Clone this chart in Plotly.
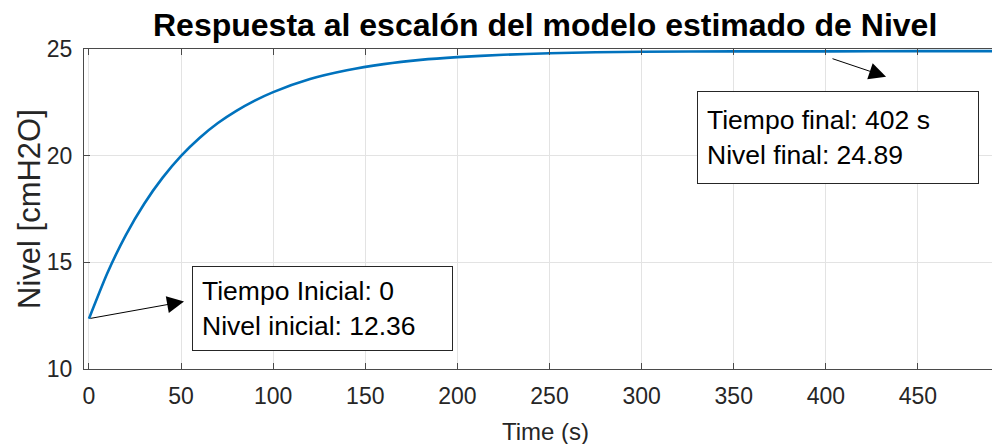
import plotly.graph_objects as go

# Data
time_s = [0, 10, 20, 30, 40, 50, 60, 70, 80, 90, 100, 120, 140, 160, 180, 200,
          225, 250, 275, 300, 350, 402, 450, 500]
nivel = [12.36, 14.50, 16.28, 17.75, 18.97, 19.99, 20.83, 21.53, 22.10, 22.58,
         22.98, 23.59, 24.00, 24.29, 24.49, 24.62, 24.73, 24.80, 24.85, 24.87,
         24.89, 24.89, 24.90, 24.90]

x_ticks = [0, 50, 100, 150, 200, 250, 300, 350, 400, 450]
y_ticks = [10, 15, 20, 25]

title_text = "Respuesta al escalón del modelo estimado de Nivel"
xlabel = "Time (s)"
ylabel = "Nivel [cmH2O]"
box1_text = "Tiempo Inicial: 0<br>Nivel inicial: 12.36"
box2_text = "Tiempo final: 402 s<br>Nivel final: 24.89"

FONT = "Liberation Sans, Arial, Helvetica, sans-serif"
AX = "#262626"
GRID = "#e3e3e3"

fig = go.Figure()
fig.add_trace(go.Scatter(x=time_s, y=nivel, mode="lines",
                         line=dict(color="#0072BD", width=2.6, shape="spline", smoothing=0.6),
                         hoverinfo="skip", showlegend=False))

fig.update_layout(
    width=992, height=444,
    margin=dict(l=84, r=0, t=49, b=75),
    paper_bgcolor="white", plot_bgcolor="white",
    font=dict(family=FONT, color=AX),
    showlegend=False,
)
fig.update_xaxes(range=[-2.7, 490.2], tickvals=x_ticks, ticktext=[str(v) for v in x_ticks],
                 showgrid=True, gridcolor=GRID, gridwidth=1,
                 showline=True, linecolor="#4a4a4a", linewidth=1.3, mirror="allticks",
                 ticks="inside", ticklen=6, tickcolor="#4a4a4a",
                 tickfont=dict(size=23, color=AX), zeroline=False, ticklabelstandoff=6)
fig.update_yaxes(range=[10, 25], tickvals=y_ticks, ticktext=[str(v) for v in y_ticks],
                 showgrid=True, gridcolor=GRID, gridwidth=1,
                 showline=True, linecolor="#4a4a4a", linewidth=1.3, mirror=False,
                 ticks="inside", ticklen=6, tickcolor="#4a4a4a",
                 tickfont=dict(size=23, color=AX), zeroline=False, ticklabelstandoff=6)

annotations = [
    dict(text="<b>" + title_text + "</b>", xref="paper", yref="paper",
         x=(544.5 - 84) / 908, y=1, yshift=24, xanchor="center", yanchor="middle",
         showarrow=False, font=dict(size=32, color="black", family=FONT)),
    dict(text=xlabel, xref="paper", yref="paper", x=(545 - 84) / 908, y=0,
         yshift=-62, xanchor="center", yanchor="middle", showarrow=False,
         font=dict(size=24, color=AX, family=FONT)),
    dict(text=ylabel, xref="paper", yref="paper", x=0, xshift=-55, y=0.5,
         textangle=-90, xanchor="center", yanchor="middle", showarrow=False,
         font=dict(size=31, color=AX, family=FONT)),
    # arrow 1: from initial point towards box
    dict(x=51.6, y=13.16, xref="x", yref="y", ax=time_s[0], ay=nivel[0],
         axref="x", ayref="y", text="", showarrow=True, arrowhead=2,
         arrowsize=3.4, arrowwidth=1.0, arrowcolor="black", standoff=0),
    # arrow 2
    dict(x=432.7, y=23.70, xref="x", yref="y", ax=402.8, ay=24.57,
         axref="x", ayref="y", text="", showarrow=True, arrowhead=2,
         arrowsize=3.4, arrowwidth=1.0, arrowcolor="black", standoff=0),
    dict(text=box1_text, xref="x", yref="y", x=55.8, y=14.83,
         xanchor="left", yanchor="top", align="left", showarrow=False,
         bordercolor="#262626", borderwidth=1, borderpad=9, bgcolor="white",
         width=241, height=65, font=dict(size=26.5, color="black", family=FONT)),
    dict(text=box2_text, xref="x", yref="y", x=330.2, y=23.05,
         xanchor="left", yanchor="top", align="left", showarrow=False,
         bordercolor="#262626", borderwidth=1, borderpad=9, bgcolor="white",
         width=262, height=73, font=dict(size=26.5, color="black", family=FONT)),
]
fig.update_layout(annotations=annotations)

fig.write_html("out.html")
